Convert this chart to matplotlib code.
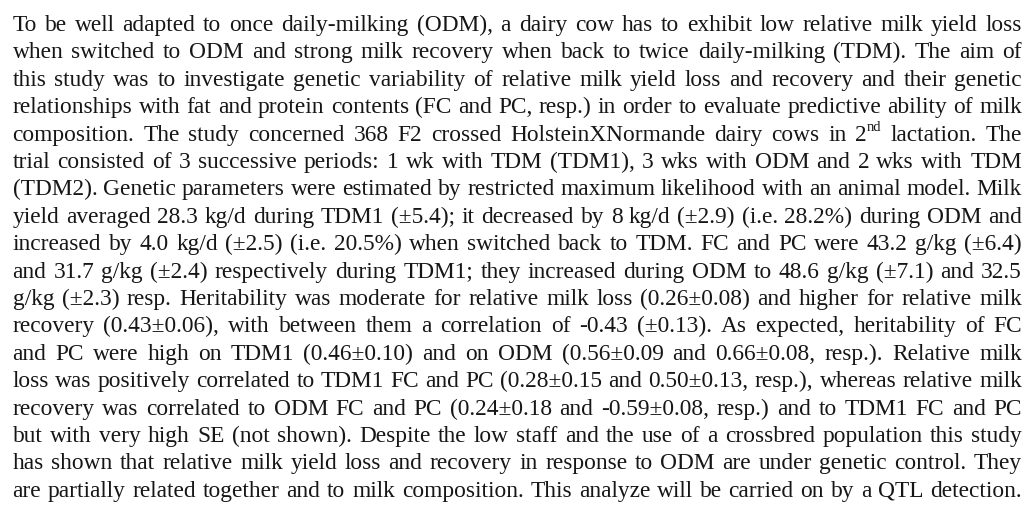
import re
import matplotlib
matplotlib.use('Agg')
import matplotlib.pyplot as plt

# Paragraph lines (as printed, justified); "{...}" marks superscript text
lines = [
    "To be well adapted to once daily-milking (ODM), a dairy cow has to exhibit low relative milk yield loss",
    "when switched to ODM and strong milk recovery when back to twice daily-milking (TDM). The aim of",
    "this study was to investigate genetic variability of relative milk yield loss and recovery and their genetic",
    "relationships with fat and protein contents (FC and PC, resp.) in order to evaluate predictive ability of milk",
    "composition. The study concerned 368 F2 crossed HolsteinXNormande dairy cows in 2{nd} lactation. The",
    "trial consisted of 3 successive periods: 1 wk with TDM (TDM1), 3 wks with ODM and 2 wks with TDM",
    "(TDM2). Genetic parameters were estimated by restricted maximum likelihood with an animal model. Milk",
    "yield averaged 28.3 kg/d during TDM1 (\u00b15.4); it decreased by 8 kg/d (\u00b12.9) (i.e. 28.2%) during ODM and",
    "increased by 4.0 kg/d (\u00b12.5) (i.e. 20.5%) when switched back to TDM. FC and PC were 43.2 g/kg (\u00b16.4)",
    "and 31.7 g/kg (\u00b12.4) respectively during TDM1; they increased during ODM to 48.6 g/kg (\u00b17.1) and 32.5",
    "g/kg (\u00b12.3) resp. Heritability was moderate for relative milk loss (0.26\u00b10.08) and higher for relative milk",
    "recovery (0.43\u00b10.06), with between them a correlation of -0.43 (\u00b10.13). As expected, heritability of FC",
    "and PC were high on TDM1 (0.46\u00b10.10) and on ODM (0.56\u00b10.09 and 0.66\u00b10.08, resp.). Relative milk",
    "loss was positively correlated to TDM1 FC and PC (0.28\u00b10.15 and 0.50\u00b10.13, resp.), whereas relative milk",
    "recovery was correlated to ODM FC and PC (0.24\u00b10.18 and -0.59\u00b10.08, resp.) and to TDM1 FC and PC",
    "but with very high SE (not shown). Despite the low staff and the use of a crossbred population this study",
    "has shown that relative milk yield loss and recovery in response to ODM are under genetic control. They",
    "are partially related together and to milk composition. This analyze will be carried on by a QTL detection.",
]

W, H = 1027, 510
LEFT, RIGHT = 12.5, 1022.0
FIRST_BASE, STEP = 31.0, 27.4
FAM = ['Liberation Serif', 'DejaVu Serif']
COLOR = '#161616'
SUP_SCALE = 0.62

fig = plt.figure(figsize=(W / 100, H / 100), dpi=100)
fig.patch.set_facecolor('white')
renderer = fig.canvas.get_renderer()


def parts_of(word):
    out = []
    for m in re.finditer(r'\{([^}]*)\}|([^{]+)', word):
        if m.group(1) is not None:
            out.append((m.group(1), True))
        else:
            out.append((m.group(2), False))
    return out


def width_at(txt, fs):
    t = fig.text(0, 0, txt, fontsize=fs, family=FAM)
    w = t.get_window_extent(renderer).width
    t.remove()
    return w


# choose font size so the widest line with normal spaces fills the measure
BASE = 10.0
space_w = width_at('a a', BASE) - width_at('aa', BASE)
natural = []
for line in lines:
    tot = 0.0
    words = line.split(' ')
    for w in words:
        for txt, sup in parts_of(w):
            tot += width_at(txt, BASE * (SUP_SCALE if sup else 1.0))
    tot += space_w * (len(words) - 1)
    natural.append(tot)
FS = BASE * (RIGHT - LEFT) / max(natural)

for i, line in enumerate(lines):
    y_px = H - (FIRST_BASE + i * STEP)
    words = line.split(' ')
    word_items = []
    for w in words:
        arts = []
        width = 0.0
        for txt, sup in parts_of(w):
            t = fig.text(0, 0, txt, fontsize=FS * (SUP_SCALE if sup else 1.0),
                         family=FAM, color=COLOR, va='baseline', ha='left')
            bb = t.get_window_extent(renderer)
            arts.append((t, width, sup))
            width += bb.width
        word_items.append((arts, width))
    total = sum(wd for _, wd in word_items)
    gap = (RIGHT - LEFT - total) / max(len(word_items) - 1, 1)
    x = LEFT
    for arts, wd in word_items:
        for t, off, sup in arts:
            yy = y_px + (FS * 0.55 if sup else 0.0)
            t.set_position(((x + off) / W, yy / H))
        x += wd + gap

fig.savefig('out.png', dpi=100, facecolor='white')
